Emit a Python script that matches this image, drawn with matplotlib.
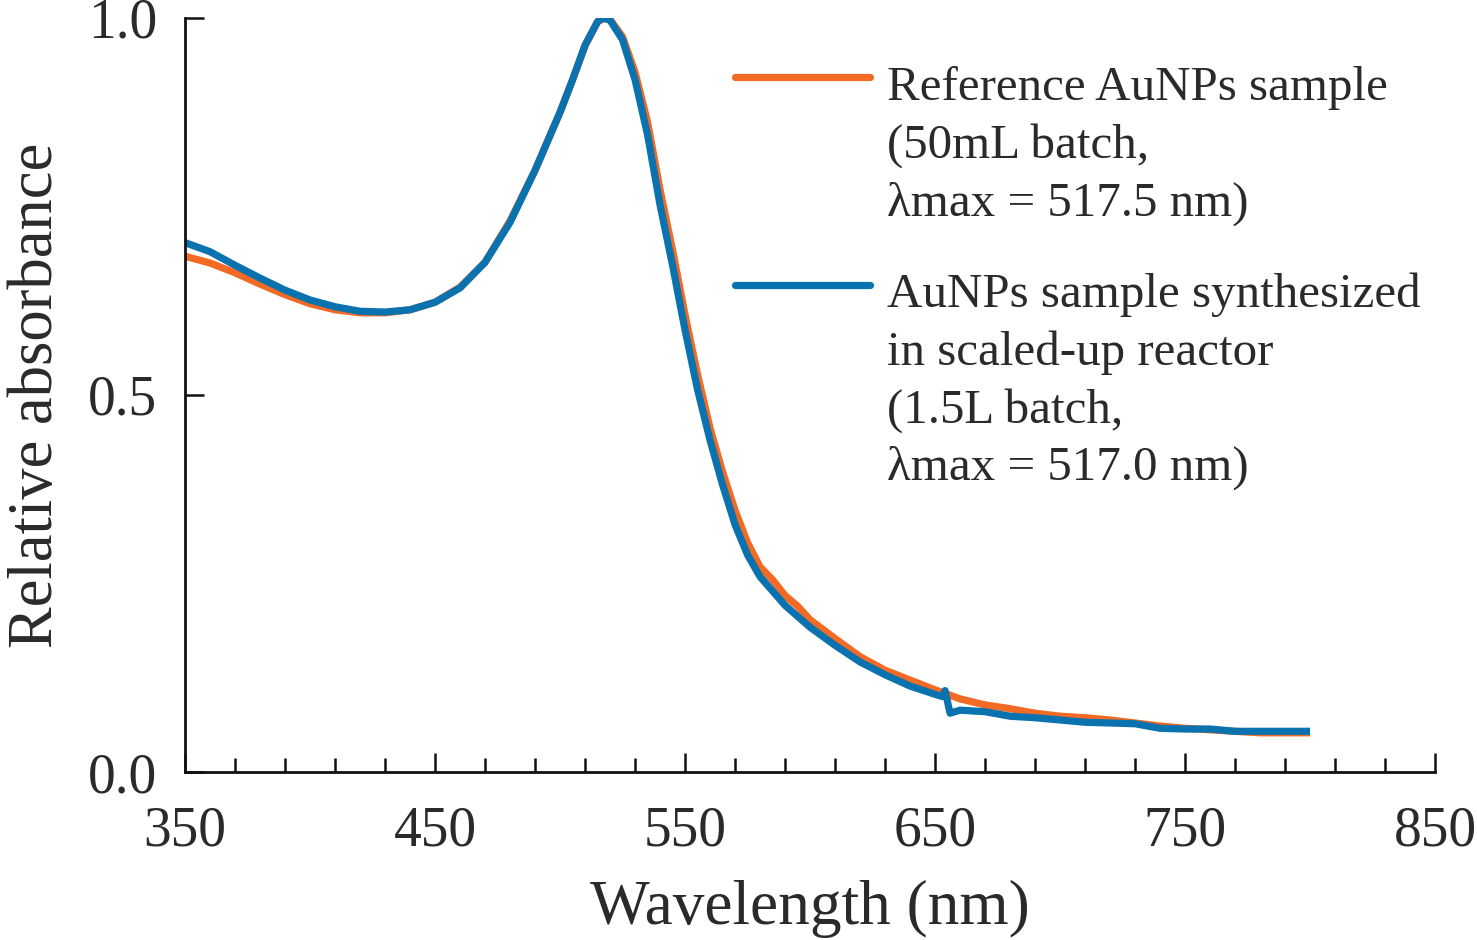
import numpy as np
import matplotlib.pyplot as plt
from matplotlib.ticker import FixedLocator

plt.rcParams['font.family'] = ['Liberation Serif', 'DejaVu Serif']

# wavelength (nm) and relative absorbance
wl_ref = [350, 360, 370, 380, 390, 400, 410, 420, 430, 440, 450, 460, 470, 480, 490,
          500, 505, 510, 515, 518, 520, 525, 530, 535, 540, 545, 550, 555, 560, 565,
          570, 575, 580, 585, 590, 595, 600, 610, 620, 630, 640, 650, 660, 670, 680,
          690, 700, 710, 720, 730, 740, 750, 760, 770, 780, 790, 800]
abs_ref = [0.684, 0.675, 0.662, 0.647, 0.633, 0.621, 0.613, 0.609, 0.609, 0.613, 0.623,
           0.643, 0.676, 0.731, 0.798, 0.875, 0.918, 0.963, 0.995, 1.000, 0.998, 0.975,
           0.928, 0.862, 0.772, 0.692, 0.606, 0.527, 0.456, 0.398, 0.347, 0.304, 0.272,
           0.255, 0.234, 0.220, 0.202, 0.177, 0.153, 0.135, 0.122, 0.109, 0.097, 0.089,
           0.084, 0.078, 0.074, 0.072, 0.069, 0.065, 0.061, 0.058, 0.056, 0.054, 0.052,
           0.052, 0.052]

wl_up = [350, 360, 370, 380, 390, 400, 410, 420, 430, 440, 450, 460, 470, 480, 490,
         500, 505, 510, 515, 517, 520, 525, 530, 535, 540, 545, 550, 555, 560, 565,
         570, 575, 580, 590, 600, 610, 620, 630, 640, 650, 653, 654, 656, 660, 670,
         680, 690, 700, 710, 720, 730, 740, 750, 760, 770, 780, 790, 800]
abs_up = [0.702, 0.690, 0.672, 0.655, 0.639, 0.626, 0.617, 0.611, 0.610, 0.613, 0.623,
          0.642, 0.676, 0.729, 0.798, 0.875, 0.918, 0.964, 0.995, 1.000, 0.997, 0.971,
          0.918, 0.845, 0.752, 0.672, 0.586, 0.507, 0.440, 0.381, 0.328, 0.288, 0.259,
          0.221, 0.192, 0.168, 0.146, 0.129, 0.114, 0.103, 0.100, 0.108, 0.078, 0.082,
          0.080, 0.074, 0.072, 0.069, 0.066, 0.065, 0.064, 0.058, 0.057, 0.057, 0.054,
          0.054, 0.054, 0.054]

label_ref = 'Reference AuNPs sample\n(50mL batch,\n\u03bbmax = 517.5 nm)'
label_up = 'AuNPs sample synthesized\nin scaled-up reactor\n(1.5L batch,\n\u03bbmax = 517.0 nm)'

orange = '#F26A24'
blue = '#0A72AE'
txt = '#2a2a2a'

fig = plt.figure(figsize=(14.77, 9.40), dpi=100)
ax = fig.add_axes([0.1253, 0.1787, 0.8463, 0.8022])

ax.plot(wl_ref, abs_ref, color=orange, lw=5.2, solid_capstyle='butt')
ax.plot(wl_up, abs_up, color=blue, lw=5.2, solid_capstyle='butt')

ax.set_xlim(350, 850)
ax.set_ylim(0, 1.0)
ax.xaxis.set_major_locator(FixedLocator([350, 450, 550, 650, 750, 850]))
ax.xaxis.set_minor_locator(FixedLocator(np.arange(370, 851, 20)))
ax.yaxis.set_major_locator(FixedLocator([0.0, 0.5, 1.0]))
ax.set_yticklabels(['0.0', '0.5', '1.0'])

for s in ['top', 'right']:
    ax.spines[s].set_visible(False)
for s in ['left', 'bottom']:
    ax.spines[s].set_linewidth(2.0)
    ax.spines[s].set_color('#111111')

ax.tick_params(axis='both', which='major', direction='in', length=14, width=1.8,
               color='#111111', labelsize=40, labelcolor=txt)
ax.tick_params(axis='x', which='major', pad=24)
ax.tick_params(axis='y', which='major', pad=20)
ax.tick_params(axis='x', which='minor', direction='in', length=10, width=1.8,
               color='#111111')

ax.set_xlabel('Wavelength (nm)', fontsize=45.5, color=txt, labelpad=16)
ax.set_ylabel('Relative absorbance', fontsize=45, color=txt, labelpad=16)

# legend keys drawn by hand so the line sits beside the first text line
ax.plot([0.44, 0.548], [0.922, 0.922], color=orange, lw=5.2, transform=ax.transAxes,
        solid_capstyle='round', clip_on=False)
ax.plot([0.44, 0.548], [0.646, 0.646], color=blue, lw=5.2, transform=ax.transAxes,
        solid_capstyle='round', clip_on=False)
ax.text(0.5616, 0.936, label_ref, transform=ax.transAxes, fontsize=35.3, color=txt,
        va='top', ha='left', linespacing=1.38)
ax.text(0.5616, 0.662, label_up, transform=ax.transAxes, fontsize=35.3, color=txt,
        va='top', ha='left', linespacing=1.38)

fig.savefig('out.png', dpi=100)
